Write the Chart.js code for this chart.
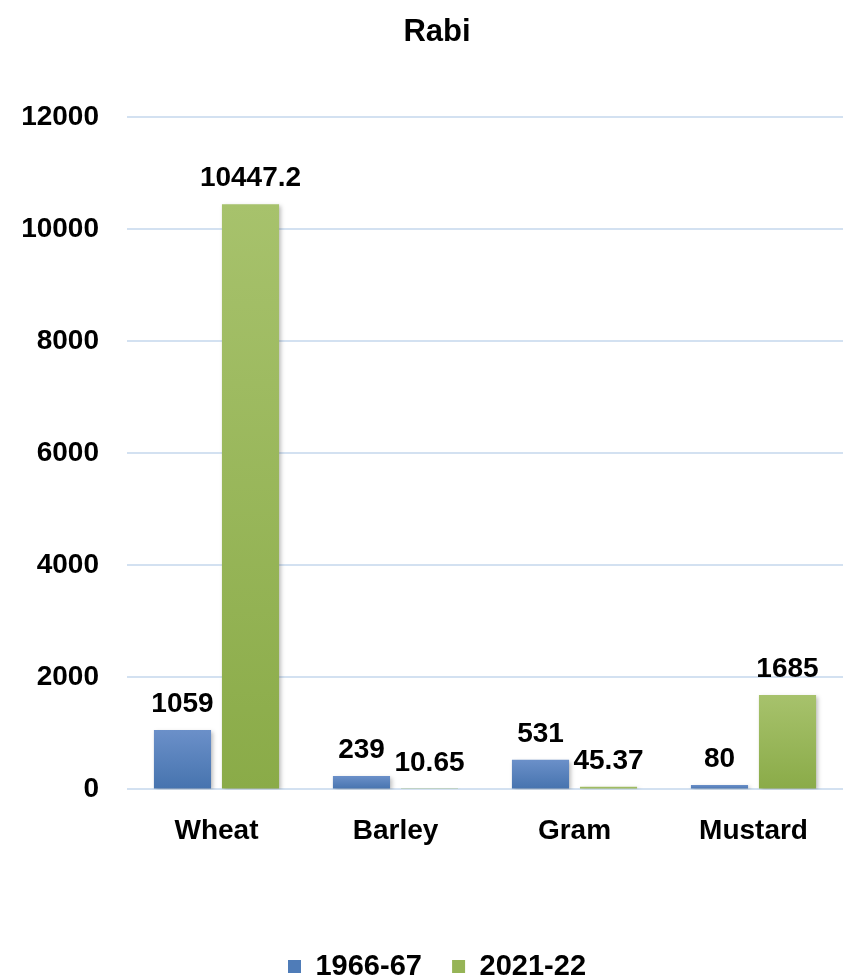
<!DOCTYPE html>
<html>
<head>
<meta charset="utf-8">
<script src="https://cdn.jsdelivr.net/npm/chart.js@4"></script>
<style>
  html, body { margin: 0; padding: 0; background: #fff; }
  .chart { width: 843px; height: 978px; }
</style>
</head>
<body>
<div class="chart"><canvas id="c"></canvas></div>
<script>
const crops = ["Wheat", "Barley", "Gram", "Mustard"];
const values6667 = [1059, 239, 531, 80];
const values2122 = [10447.2, 10.65, 45.37, 1685];
const seriesNames = ["1966-67", "2021-22"];

const FONT = "'Liberation Sans', Arial, sans-serif";

// per-bar vertical gradient
function barGradient(ctx, top, bottom) {
  const chart = ctx.chart;
  if (!chart.chartArea || ctx.type !== "data") return bottom;
  const y = chart.scales.y;
  const y0 = y.getPixelForValue(ctx.raw);
  const y1 = y.getPixelForValue(0);
  if (!isFinite(y0) || y1 - y0 < 1) return bottom;
  const g = chart.ctx.createLinearGradient(0, y0, 0, y1);
  g.addColorStop(0, top);
  g.addColorStop(1, bottom);
  return g;
}

// draws the value above each bar
const valueLabels = {
  id: "valueLabels",
  afterDatasetsDraw(chart) {
    const ctx = chart.ctx;
    ctx.save();
    ctx.font = "bold 28px " + FONT;
    ctx.fillStyle = "#000";
    ctx.textAlign = "center";
    ctx.textBaseline = "alphabetic";
    chart.data.datasets.forEach((ds, i) => {
      chart.getDatasetMeta(i).data.forEach((bar, j) => {
        ctx.fillText(String(ds.data[j]), bar.x, bar.y - 18);
      });
    });
    ctx.restore();
  }
};

// soft shadow behind bars
const barShadow = {
  id: "barShadow",
  beforeDatasetsDraw(chart) {
    chart.ctx.save();
    chart.ctx.shadowColor = "rgba(0,0,0,0.25)";
    chart.ctx.shadowBlur = 4;
    chart.ctx.shadowOffsetX = 2;
    chart.ctx.shadowOffsetY = 2;
  },
  afterDatasetsDraw(chart) {
    chart.ctx.restore();
  }
};

new Chart(document.getElementById("c"), {
  type: "bar",
  data: {
    labels: crops,
    datasets: [
      {
        label: seriesNames[0],
        data: values6667,
        backgroundColor: (ctx) => barGradient(ctx, "#6b90c9", "#4673ae"),
        borderWidth: 0,
        barPercentage: 0.84,
        categoryPercentage: 0.76
      },
      {
        label: seriesNames[1],
        data: values2122,
        backgroundColor: (ctx) => barGradient(ctx, "#a7c26c", "#8aab48"),
        borderWidth: 0,
        barPercentage: 0.84,
        categoryPercentage: 0.76
      }
    ]
  },
  options: {
    responsive: true,
    maintainAspectRatio: false,
    animation: false,
    layout: { padding: { left: 31, right: 0, top: 0, bottom: -13 } },
    plugins: {
      title: {
        display: true,
        text: "Rabi",
        color: "#000",
        font: { family: FONT, size: 31, weight: "bold" },
        padding: { top: 14, bottom: 66 }
      },
      legend: {
        position: "bottom",
        labels: {
          color: "#000",
          font: { family: FONT, size: 29, weight: "bold" },
          boxWidth: 13,
          boxHeight: 13,
          padding: 6,
          // extra gap after the first item, as in the original
          generateLabels(chart) {
            const items = Chart.defaults.plugins.legend.labels.generateLabels(chart);
            items.forEach((it, i) => {
              it.fillStyle = i === 0 ? "#4f7cb8" : "#96b456";
              if (i === 0) it.text = it.text + "   ";
            });
            return items;
          }
        }
      },
      tooltip: { enabled: false }
    },
    scales: {
      x: {
        grid: { display: false },
        border: { display: false },
        ticks: {
          color: "#000",
          font: { family: FONT, size: 28, weight: "bold" },
          padding: 17
        },
        afterFit(scale) { scale.height += 81; }
      },
      y: {
        min: 0,
        max: 12000,
        ticks: {
          stepSize: 2000,
          color: "#000",
          font: { family: FONT, size: 28, weight: "bold" },
          padding: 28,
          callback: (v) => String(v)
        },
        grid: { color: "#d3e1f1", lineWidth: 2, drawTicks: false },
        border: { display: false },
        afterFit(scale) {
          scale.width = 96;
          // labels reach past the narrowed box, so don't clip them
          scale._computeLabelArea = () => undefined;
        }
      }
    }
  },
  plugins: [barShadow, valueLabels]
});
</script>
</body>
</html>
